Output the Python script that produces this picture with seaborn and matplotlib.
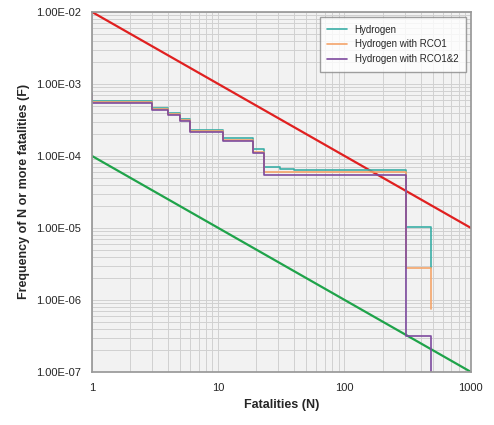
import numpy as np
import pandas as pd
import seaborn as sns
import matplotlib.pyplot as plt
from matplotlib.ticker import FuncFormatter

sns.set_theme(style="whitegrid")
plt.rcParams['font.family'] = ['Liberation Sans', 'DejaVu Sans']

# step curves (N, F) for "N or more"
n_h = [1, 1, 3, 4, 5, 6, 11, 19, 23, 31, 40, 306, 306, 483, 483]
f_h = [7.5e-4, 5.8e-4, 4.6e-4, 3.9e-4, 3.3e-4, 2.3e-4, 1.8e-4, 1.25e-4, 7.1e-5, 6.6e-5, 6.4e-5, 6.4e-5, 1.02e-5, 1.02e-5, 2.77e-6]
n_r1 = [1, 1, 3, 4, 5, 6, 11, 19, 23, 306, 306, 483, 483]
f_r1 = [7.3e-4, 5.6e-4, 4.5e-4, 3.8e-4, 3.2e-4, 2.2e-4, 1.65e-4, 1.15e-4, 5.9e-5, 5.9e-5, 2.77e-6, 2.77e-6, 7.5e-7]
n_r12 = [1, 1, 3, 4, 5, 6, 11, 19, 23, 306, 306, 483, 483]
f_r12 = [7.2e-4, 5.5e-4, 4.4e-4, 3.7e-4, 3.1e-4, 2.15e-4, 1.6e-4, 1.1e-4, 5.4e-5, 5.4e-5, 3.2e-7, 3.2e-7, 1e-9]
crit_n = [1, 1000]
upper_f = [1e-2, 1e-5]
lower_f = [1e-4, 1e-7]

fig, ax = plt.subplots(figsize=(4.94, 4.25), dpi=100)
ax.set_facecolor("#f2f2f2")

sns.lineplot(x=crit_n, y=upper_f, ax=ax, color="#e02020", lw=1.6)
sns.lineplot(x=crit_n, y=lower_f, ax=ax, color="#1fa34a", lw=1.6)
ax.step(n_h, f_h, where="post", color="#3aaea6", lw=1.2, label="Hydrogen")
ax.step(n_r1, f_r1, where="post", color="#f4a46a", lw=1.2, label="Hydrogen with RCO1")
ax.step(n_r12, f_r12, where="post", color="#7d4a9e", lw=1.2, label="Hydrogen with RCO1&2")

ax.set_xscale("log")
ax.set_yscale("log")
ax.set_xlim(1, 1000)
ax.set_ylim(1e-7, 1e-2)
ax.yaxis.set_major_formatter(FuncFormatter(lambda v, p: f"{v:.2E}"))
ax.xaxis.set_major_formatter(FuncFormatter(lambda v, p: f"{v:g}"))
ax.grid(True, which="both", color="#d0d0d0", lw=0.7)
ax.tick_params(labelsize=8, pad=2)
for s in ax.spines.values():
    s.set_color("#999999")
ax.set_xlabel("Fatalities (N)", fontsize=9, fontweight="bold")
ax.set_ylabel("Frequency of N or more fatalities (F)", fontsize=9, fontweight="bold")
leg = ax.legend(loc="upper right", fontsize=7, frameon=True, fancybox=False, borderpad=0.8)
leg.get_frame().set_edgecolor("#888888")

plt.subplots_adjust(left=0.186, right=0.953, top=0.972, bottom=0.125)
plt.savefig("out.png", dpi=100)
